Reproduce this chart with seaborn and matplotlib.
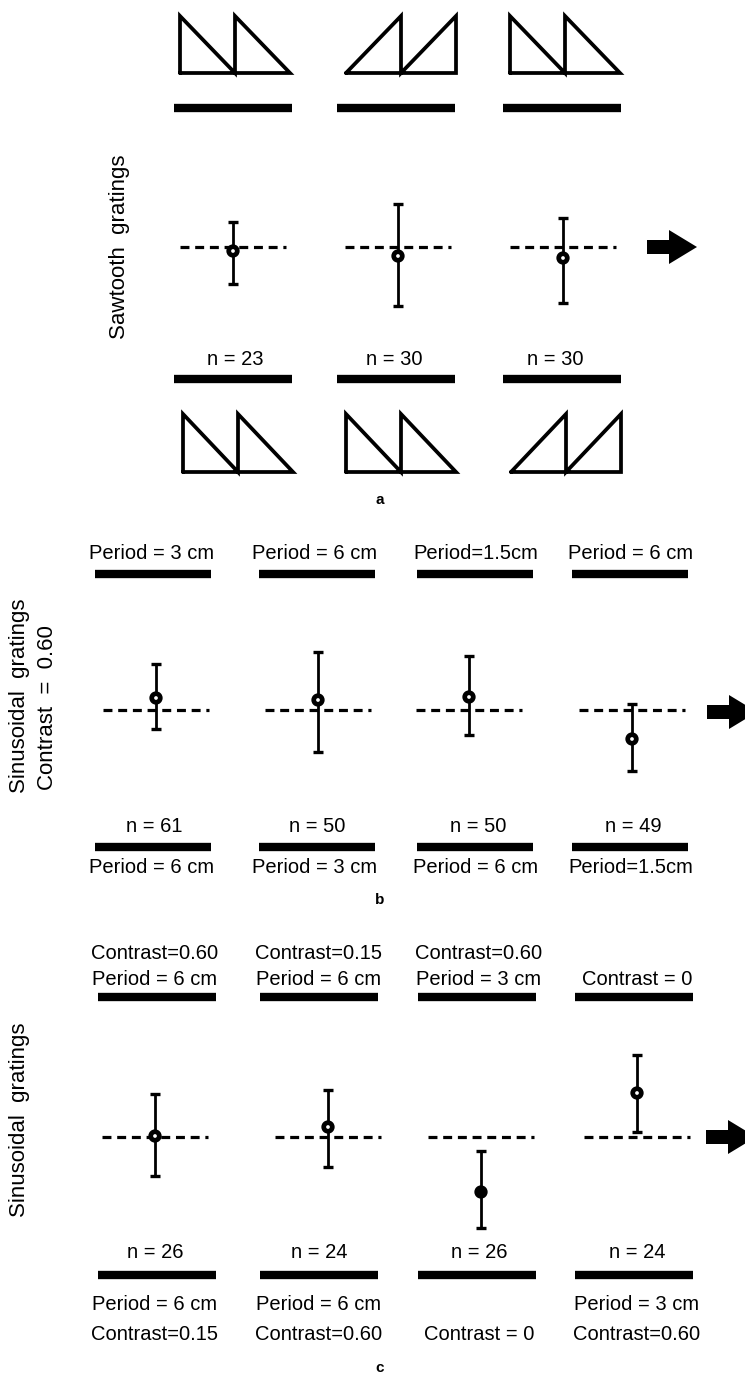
import numpy as np
import pandas as pd
import matplotlib
matplotlib.use("Agg")
import matplotlib.pyplot as plt
import seaborn as sns
from matplotlib.patches import FancyArrow

# ---------------- data (arbitrary units, 0 = dashed reference) ----------------
# panel a : sawtooth gratings
a_top_icons = ["down", "up", "down"]
a_bottom_icons = ["down", "down", "up"]
a_n = [23, 30, 30]
a_mean = [-0.4, -0.9, -1.1]
a_err_up = [2.9, 5.2, 4.0]
a_err_dn = [3.3, 5.0, 4.5]

# panel b : sinusoidal gratings, contrast 0.60
b_top = ["Period = 3 cm", "Period = 6 cm", "Period=1.5cm", "Period = 6 cm"]
b_bottom = ["Period = 6 cm", "Period = 3 cm", "Period = 6 cm", "Period=1.5cm"]
b_n = [61, 50, 50, 49]
b_mean = [1.2, 1.0, 1.3, -2.9]
b_err_up = [3.4, 4.8, 4.1, 3.5]
b_err_dn = [3.1, 5.2, 3.8, 3.2]

# panel c : sinusoidal gratings
c_top_line1 = ["Contrast=0.60", "Contrast=0.15", "Contrast=0.60", ""]
c_top_line2 = ["Period = 6 cm", "Period = 6 cm", "Period = 3 cm", "Contrast = 0"]
c_bottom_line1 = ["Period = 6 cm", "Period = 6 cm", "", "Period = 3 cm"]
c_bottom_line2 = ["Contrast=0.15", "Contrast=0.60", "Contrast = 0", "Contrast=0.60"]
c_n = [26, 24, 26, 24]
c_mean = [0.1, 1.0, -5.5, 4.4]
c_err_up = [4.2, 3.7, 4.1, 3.8]
c_err_dn = [4.0, 4.0, 3.6, 3.9]
c_filled = [False, False, True, False]

# ---------------- layout (pixels) ----------------
W, H = 745, 1375
PX_PER_UNIT = 10.0
FONT = "Liberation Sans"
FS = 14.5
FS_Y = 16

sns.set_theme(style="white")
plt.rcParams["font.family"] = [FONT, "DejaVu Sans"]

fig = plt.figure(figsize=(W / 100, H / 100), dpi=100)
fig.patch.set_facecolor("white")

# overlay axes in pixel coordinates for labels / symbols
ov = fig.add_axes([0, 0, 1, 1])
ov.set_xlim(0, W)
ov.set_ylim(H, 0)
ov.axis("off")


def bar(cx, y, hw):
    ov.plot([cx - hw, cx + hw], [y, y], color="black", lw=6,
            solid_capstyle="butt")


def txt(x, y, s, fs=FS, **kw):
    ov.text(x, y, s, ha="center", va="center", fontsize=fs,
            color="black", **kw)


def saw(cx, top, base, direction, w=55):
    x0 = cx - w
    if direction == "down":
        xs = [x0, x0, x0 + w, x0 + w, x0 + 2 * w, x0]
        ys = [base, top, base, top, base, base]
    else:
        xs = [x0, x0 + w, x0 + w, x0 + 2 * w, x0 + 2 * w, x0]
        ys = [base, top, base, top, base, base]
    ov.plot(xs, ys, color="black", lw=2.7, solid_joinstyle="miter")


def arrow(x, y):
    ov.add_patch(FancyArrow(x, y, 50, 0, width=14, head_width=34,
                            head_length=28, length_includes_head=True,
                            color="black", lw=0))


def panel(base_px, xs, mean, up, dn, filled, half=130):
    ax = fig.add_axes([0, 1 - (base_px + half) / H, 1, 2 * half / H])
    ax.set_xlim(0, W)
    lim = half / PX_PER_UNIT
    ax.set_ylim(-lim, lim)
    ax.axis("off")
    ax.patch.set_alpha(0)
    for x in xs:
        ax.plot([x - 53, x + 53], [0, 0], color="black", lw=2.3,
                linestyle=(0, (2.8, 1.8)), zorder=2)
    ax.errorbar(xs, mean, yerr=[dn, up], fmt="none", ecolor="black",
                elinewidth=2.0, capsize=3.5, capthick=2.4, zorder=3)
    df = pd.DataFrame({"x": xs, "y": mean,
                       "kind": ["filled" if f else "open" for f in filled]})
    sns.scatterplot(data=df, x="x", y="y", hue="kind",
                    palette={"filled": "black", "open": "white"},
                    edgecolor="black", linewidth=3.4, s=38, legend=False,
                    ax=ax, zorder=5, clip_on=False)
    return ax


# ---------------- panel a ----------------
A_BASE = 247
A_DATA_X = [233, 398, 563]
A_COL_X = [233, 396, 562]
A_ICON_TOP_X = [235, 401, 565]
A_ICON_BOT_X = [238, 401, 566]
A_N_X = [235, 394, 555]
for cx, d in zip(A_ICON_TOP_X, a_top_icons):
    saw(cx, 16, 73, d)
for cx in A_COL_X:
    bar(cx, 108, 59)
    bar(cx, 379, 59)
for cx, d in zip(A_ICON_BOT_X, a_bottom_icons):
    saw(cx, 414, 472, d)
for x, n in zip(A_N_X, a_n):
    txt(x, 359, f"n = {n}")
txt(120, A_BASE, "Sawtooth  gratings", fs=FS_Y, rotation=90)
txt(380, 500, "a", fs=11, fontweight="bold")
arrow(647, A_BASE)
panel(A_BASE, A_DATA_X, a_mean, a_err_up, a_err_dn, [False] * 3)

# ---------------- panel b ----------------
B_BASE = 710
B_DATA_X = [156, 318, 469, 632]
B_COL_X = [153, 317, 475, 630]
B_LAB_X = [152, 315, 476, 631]
for x, s in zip(B_LAB_X, b_top):
    txt(x, 553, s)
for cx in B_COL_X:
    bar(cx, 574, 58)
    bar(cx, 847, 58)
for x, n in zip(B_LAB_X, b_n):
    txt(x + 2, 826, f"n = {n}")
for x, s in zip(B_LAB_X, b_bottom):
    txt(x, 867, s)
ov.text(20, 793, "Sinusoidal  gratings", rotation=90, ha="center",
        va="bottom", fontsize=FS_Y, color="black")
ov.text(48, 790, "Contrast  =  0.60", rotation=90, ha="center",
        va="bottom", fontsize=FS_Y, color="black")
txt(380, 900, "b", fs=11, fontweight="bold")
arrow(707, B_BASE + 2)
panel(B_BASE, B_DATA_X, b_mean, b_err_up, b_err_dn, [False] * 4)

# ---------------- panel c ----------------
C_BASE = 1137
C_DATA_X = [155, 328, 481, 637]
C_COL_X = [157, 319, 477, 634]
C_LAB_X = [155, 319, 479, 637]
for x, s in zip(C_LAB_X, c_top_line1):
    if s:
        txt(x, 953, s)
for x, s in zip(C_LAB_X, c_top_line2):
    txt(x, 979, s)
for cx in C_COL_X:
    bar(cx, 997, 59)
    bar(cx, 1275, 59)
for x, n in zip(C_LAB_X, c_n):
    txt(x, 1253, f"n = {n}")
for x, s in zip(C_LAB_X, c_bottom_line1):
    if s:
        txt(x, 1305, s)
for x, s in zip(C_LAB_X, c_bottom_line2):
    txt(x, 1335, s)
txt(20, 1120, "Sinusoidal  gratings", fs=FS_Y, rotation=90)
txt(380, 1368, "c", fs=11, fontweight="bold")
arrow(706, C_BASE)
panel(C_BASE, C_DATA_X, c_mean, c_err_up, c_err_dn, c_filled)

fig.savefig("out.png", dpi=100, facecolor="white")
